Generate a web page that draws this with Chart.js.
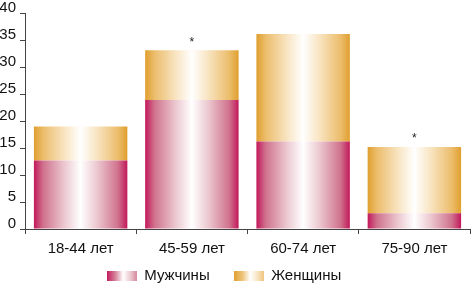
<!DOCTYPE html>
<html>
<head>
<meta charset="utf-8">
<script src="https://cdn.jsdelivr.net/npm/chart.js@4"></script>
<style>
  html, body { margin: 0; padding: 0; background: #fff; }
  #wrap { width: 471px; height: 283px; }
</style>
</head>
<body>
<div id="wrap"><canvas id="ageChart"></canvas></div>
<script>
const categories = ["18-44 лет", "45-59 лет", "60-74 лет", "75-90 лет"];
const men = [12.7, 23.9, 16.2, 2.9];
const women = [6.3, 9.2, 19.9, 12.3];
const starred = [false, true, false, true];
const yTicks = [0, 5, 10, 15, 20, 25, 30, 35, 40];

const MEN_EDGE = "#c2185b";
const WOMEN_EDGE = "#e09f2e";
const FONT = "'Liberation Sans', Arial, sans-serif";

function addStops(g, edge, mid, light) {
  g.addColorStop(0, edge);
  g.addColorStop(0.1, mid);
  g.addColorStop(0.32, light);
  g.addColorStop(0.5, "#ffffff");
  g.addColorStop(0.68, light);
  g.addColorStop(0.9, mid);
  g.addColorStop(1, edge);
  return g;
}

function barGradient(edge, mid, light) {
  return function (c) {
    const chart = c.chart;
    const xs = chart.scales.x;
    if (!xs || !chart.chartArea || c.dataIndex === undefined) return edge;
    const cx = xs.getPixelForValue(c.dataIndex);
    const w = (chart.chartArea.width / categories.length) * 0.84;
    const g = chart.ctx.createLinearGradient(cx - w / 2, 0, cx + w / 2, 0);
    return addStops(g, edge, mid, light);
  };
}

// small gradient swatch used as legend marker
function legendBox(edge, mid, light) {
  const cv = document.createElement("canvas");
  cv.width = 30;
  cv.height = 10;
  const cx = cv.getContext("2d");
  const g = cx.createLinearGradient(0, 0, 30, 0);
  g.addColorStop(0, edge);
  g.addColorStop(0.3, mid);
  g.addColorStop(0.55, "#ffffff");
  g.addColorStop(0.8, light);
  g.addColorStop(1, mid);
  cx.fillStyle = g;
  cx.fillRect(0, 0, 30, 10);
  return cv;
}

const starPlugin = {
  id: "stars",
  afterDatasetsDraw(chart) {
    const ctx = chart.ctx;
    const xs = chart.scales.x, ys = chart.scales.y;
    ctx.save();
    ctx.fillStyle = "#222";
    ctx.font = "12px " + FONT;
    ctx.textAlign = "center";
    ctx.textBaseline = "middle";
    starred.forEach((s, i) => {
      if (!s) return;
      const top = ys.getPixelForValue(men[i] + women[i]);
      ctx.fillText("*", xs.getPixelForValue(i), top - 8);
    });
    ctx.restore();
  }
};

// nudge the legend into place (its box is sized by padding)
const legendShift = {
  id: "legendShift",
  afterLayout(chart) {
    const lg = chart.legend;
    if (!lg) return;
    lg.top = 244;
    lg.bottom = chart.height;
    lg.height = lg.bottom - lg.top;
    lg.left -= 11; lg.right -= 11;
  }
};

const ctx = document.getElementById("ageChart").getContext("2d");
new Chart(ctx, {
  type: "bar",
  data: {
    labels: categories,
    datasets: [
      {
        label: "Мужчины",
        data: men,
        backgroundColor: barGradient(MEN_EDGE, "#d0728e", "#ebc6cf"),
        borderWidth: 0,
        pointStyle: legendBox(MEN_EDGE, "#d7899f", "#ebc6cf"),
      },
      {
        label: "Женщины",
        data: women,
        backgroundColor: barGradient(WOMEN_EDGE, "#ecbd6c", "#f8e3bf"),
        borderWidth: 0,
        pointStyle: legendBox(WOMEN_EDGE, "#efc57f", "#f8e3bf"),
      },
    ],
  },
  options: {
    responsive: true,
    maintainAspectRatio: false,
    animation: false,
    categoryPercentage: 1,
    barPercentage: 0.84,
    layout: { padding: { top: 12, right: 1, left: 0, bottom: 0 } },
    scales: {
      x: {
        stacked: true,
        grid: { drawOnChartArea: false, tickLength: 5, color: "#444", offset: true },
        border: { color: "#444", width: 1 },
        ticks: { color: "#111", padding: 6, font: { family: FONT, size: 15 } },
        afterFit(scale) { scale.height = 28; },
      },
      y: {
        stacked: true,
        min: 0,
        max: 40,
        afterBuildTicks(scale) { scale.ticks = yTicks.map(v => ({ value: v })); },
        grid: { drawOnChartArea: false, tickLength: 5, color: "#444" },
        border: { color: "#444", width: 1 },
        ticks: { color: "#111", padding: 4, labelOffset: -5, font: { family: FONT, size: 15 } },
        afterFit(scale) { scale.width = 25; },
      },
    },
    plugins: {
      legend: {
        position: "bottom",
        maxHeight: 26,
        labels: {
          usePointStyle: true,
          pointStyleWidth: 30,
          boxHeight: 10,
          padding: 24,
          color: "#111",
          font: { family: FONT, size: 15 },
        },
      },
      tooltip: { enabled: false },
    },
  },
  plugins: [starPlugin, legendShift],
});
</script>
</body>
</html>
